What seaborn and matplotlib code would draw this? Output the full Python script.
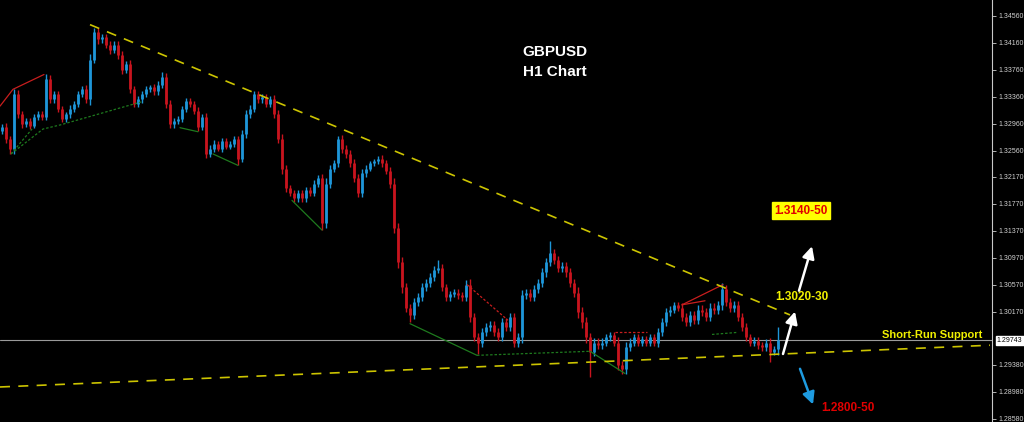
import numpy as np
import matplotlib
matplotlib.use('Agg')
import matplotlib.pyplot as plt
import seaborn as sns

# hourly closes (oldest first)
closes = [
    1.3291, 1.3273, 1.3259, 1.3340, 1.3310, 1.3295, 1.3300, 1.3293, 1.3306, 1.3310,
    1.3306, 1.3362, 1.3332, 1.3340, 1.3318, 1.3303, 1.3310, 1.3318, 1.3325, 1.3340,
    1.3347, 1.3332, 1.3391, 1.3432, 1.3421, 1.3424, 1.3413, 1.3406, 1.3413, 1.3398,
    1.3376, 1.3384, 1.3347, 1.3325, 1.3332, 1.3340, 1.3347, 1.3350, 1.3344, 1.3354,
    1.3365, 1.3325, 1.3295, 1.3300, 1.3303, 1.3318, 1.3329, 1.3325, 1.3315, 1.3291,
    1.3306, 1.3251, 1.3259, 1.3266, 1.3259, 1.3270, 1.3262, 1.3266, 1.3273, 1.3244,
    1.3281, 1.3310, 1.3318, 1.3340, 1.3332, 1.3335, 1.3325, 1.3332, 1.3310, 1.3273,
    1.3229, 1.3200, 1.3193, 1.3185, 1.3193, 1.3185, 1.3197, 1.3193, 1.3207, 1.3215,
    1.3149, 1.3207, 1.3229, 1.3237, 1.3273, 1.3259, 1.3251, 1.3237, 1.3215, 1.3193,
    1.3222, 1.3229, 1.3237, 1.3240, 1.3244, 1.3237, 1.3226, 1.3207, 1.3141, 1.3090,
    1.3053, 1.3023, 1.3012, 1.3031, 1.3038, 1.3053, 1.3060, 1.3068, 1.3079, 1.3082,
    1.3053, 1.3038, 1.3043, 1.3045, 1.3041, 1.3038, 1.3057, 1.3009, 1.2979, 1.2971,
    1.2987, 1.2994, 1.2997, 1.2987, 1.2979, 1.3001, 1.2994, 1.3009, 1.2971, 1.2979,
    1.3041, 1.3045, 1.3038, 1.3050, 1.3060, 1.3075, 1.3090, 1.3104, 1.3094, 1.3082,
    1.3085, 1.3075, 1.3060, 1.3045, 1.3016, 1.3001, 1.2979, 1.2957, 1.2971, 1.2967,
    1.2971, 1.2979, 1.2982, 1.2971, 1.2938, 1.2932, 1.2964, 1.2971, 1.2979, 1.2971,
    1.2976, 1.2971, 1.2979, 1.2971, 1.2987, 1.3001, 1.3016, 1.3020, 1.3026, 1.3023,
    1.3009, 1.3001, 1.3012, 1.3005, 1.3020, 1.3016, 1.3009, 1.3023, 1.3020, 1.3026,
    1.3050, 1.3031, 1.3023, 1.3026, 1.3009, 1.2994, 1.2979, 1.2971, 1.2974, 1.2967,
    1.2964, 1.2971, 1.2957, 1.2961, 1.29743,
]
first_open = 1.3285

# how far each bar's wicks reach past its body, in pips (split up / down)
wick_pips = [
    10, 12, 10, 16, 12, 10, 8, 10, 8, 10,
    10, 10, 12, 10, 10, 8, 8, 10, 10, 10,
    10, 12, 16, 10, 12, 10, 10, 12, 10, 12,
    12, 10, 12, 10, 10, 10, 10, 8, 10, 10,
    10, 12, 12, 10, 10, 8, 10, 10, 10, 12,
    10, 12, 10, 10, 8, 10, 8, 8, 10, 10,
    10, 12, 10, 10, 10, 10, 10, 10, 12, 12,
    16, 12, 10, 10, 10, 10, 10, 10, 10, 10,
    12, 16, 12, 10, 10, 12, 12, 12, 12, 12,
    12, 10, 8, 8, 8, 10, 10, 12, 16, 16,
    16, 12, 10, 12, 12, 12, 12, 12, 10, 10,
    10, 10, 10, 10, 10, 10, 12, 16, 12, 12,
    12, 12, 12, 12, 12, 12, 12, 12, 12, 12,
    16, 10, 10, 12, 12, 12, 12, 12, 12, 12,
    12, 12, 12, 12, 16, 16, 16, 12, 12, 12,
    12, 10, 10, 10, 16, 12, 16, 12, 10, 10,
    10, 10, 10, 10, 12, 12, 12, 10, 10, 10,
    12, 12, 12, 12, 12, 12, 12, 12, 12, 12,
    12, 12, 12, 12, 12, 12, 12, 10, 10, 10,
    10, 10, 12, 10, 16,
]

# wick extremes where they stick out further
spike_highs = {11: 1.3369, 23: 1.3438, 40: 1.3372, 63: 1.3343, 84: 1.3278,
               109: 1.3093, 116: 1.3064, 137: 1.3122, 180: 1.3060, 194: 1.2994}
spike_lows = {2: 1.3251, 59: 1.3234, 80: 1.3138, 102: 1.3001, 119: 1.2954,
              147: 1.2920, 155: 1.2924, 192: 1.2942}

bid_price = 1.29743
price_ticks = [1.34560, 1.34160, 1.33760, 1.33360, 1.32960, 1.32560, 1.32170,
               1.31770, 1.31370, 1.30970, 1.30570, 1.30170, 1.29380, 1.28980, 1.28580]

# trend lines as (bar index, price)
upper_x, upper_y = [22, 197], [1.3443, 1.3012]
lower_x, lower_y = [-0.5, 247], [1.2905, 1.2967]

# pattern lines drawn by the indicator: x, y, colour, style
pattern_lines = [
    ([-0.5, 2.75, 10.5], [1.3322, 1.3347, 1.3369], 'red', 'solid'),
    ([2.25, 10.25, 14.5, 35.25], [1.3251, 1.3288, 1.3294, 1.3329], 'green', 'dotted'),
    ([2.25, 7.5], [1.3251, 1.3288], 'green', 'dotted'),
    ([44.5, 49], [1.3290, 1.3284], 'green', 'solid'),
    ([52.75, 59], [1.3251, 1.3234], 'green', 'solid'),
    ([72.5, 80], [1.3182, 1.3138], 'green', 'solid'),
    ([102, 118.75], [1.2999, 1.2952], 'green', 'solid'),
    ([118.75, 147], [1.2952, 1.2958], 'green', 'dotted'),
    ([116.25, 126.5], [1.3057, 1.3004], 'red', 'dotted'),
    ([147, 155.75], [1.2958, 1.2925], 'green', 'solid'),
    ([153.25, 161.25], [1.2986, 1.2986], 'red', 'dotted'),
    ([170, 180.25], [1.3027, 1.3057], 'red', 'solid'),
    ([170, 175.75], [1.3027, 1.3033], 'red', 'solid'),
    ([177.5, 183.75], [1.2983, 1.2986], 'green', 'dotted'),
]

BULL = '#1E96D8'
BEAR = '#C8141E'
LINE_COLORS = {'red': '#C81E1E', 'green': '#1E7A1E'}
TREND = '#CCC400'

sns.set_theme(style='dark', rc={'axes.facecolor': 'black', 'figure.facecolor': 'black',
                                'axes.grid': False})
plt.rcParams['font.family'] = ['Liberation Sans', 'DejaVu Sans']

fig = plt.figure(figsize=(10.24, 4.22), dpi=100)
ax = fig.add_axes([0, 0, 992 / 1024, 1])
ax.set_facecolor('black')

closes = np.array(closes)
idx = np.arange(len(closes))
opens = np.r_[first_open, closes[:-1]]
half_wick = np.array(wick_pips) * 0.0001 / 2
highs = np.maximum(opens, closes) + half_wick
lows = np.minimum(opens, closes) - half_wick
for i, v in spike_highs.items():
    highs[i] = max(highs[i], v)
for i, v in spike_lows.items():
    lows[i] = min(lows[i], v)
colors = np.where(closes >= opens, BULL, BEAR)

ax.vlines(idx, lows, highs, colors=colors, lw=1.0)
body_lo = np.minimum(opens, closes)
body_hi = np.maximum(np.maximum(opens, closes), body_lo + 0.0003)
ax.vlines(idx, body_lo, body_hi, colors=colors, lw=2.0)

# current bid line
ax.axhline(bid_price, color='#9A9A9A', lw=0.8, zorder=1)

for xs, ys, c, st in pattern_lines:
    ls = (0, (2, 1.5)) if st == 'dotted' else '-'
    ax.plot(xs, ys, color=LINE_COLORS[c], lw=0.9, linestyle=ls)

sns.lineplot(x=upper_x, y=upper_y, ax=ax, color=TREND, lw=1.2, linestyle=(0, (6, 5)))
sns.lineplot(x=lower_x, y=lower_y, ax=ax, color=TREND, lw=1.2, linestyle=(0, (6, 5)))

ax.set_xlim(-0.5, 247.5)
ax.set_ylim(1.2853, 1.34796)

# price scale on the right
ax.yaxis.tick_right()
ax.set_yticks(price_ticks)
ax.set_yticklabels([f'{v:.5f}' for v in price_ticks])
ax.tick_params(axis='y', colors='#D0D0D0', labelsize=5, length=3, width=0.6,
               pad=1.5, direction='out', right=True, left=False)
ax.set_xticks([])
for s in ['left', 'top', 'bottom']:
    ax.spines[s].set_visible(False)
ax.spines['right'].set_color('#C8C8C8')
ax.spines['right'].set_linewidth(0.8)
ax.annotate(f'{bid_price:.5f}', xy=(1.005, bid_price), xycoords=('axes fraction', 'data'),
            ha='left', va='center', fontsize=5, color='black', annotation_clip=False,
            bbox=dict(boxstyle='square,pad=0.15', fc='white', ec='white'))

# titles and targets
ax.text(138.2, 1.3403, 'GBPUSD', color='white', fontsize=11, fontweight='bold',
        ha='center', va='center')
ax.text(138.2, 1.3372, 'H1 Chart', color='white', fontsize=11, fontweight='bold',
        ha='center', va='center')
ax.text(199.8, 1.3167, '1.3140-50', color='#E00000', fontsize=8.5, fontweight='bold',
        ha='center', va='center',
        bbox=dict(boxstyle='square,pad=0.2', fc='#FFFF00', ec='#FFFF00'))
ax.text(200.0, 1.3038, '1.3020-30', color='#F0F000', fontsize=8.5, fontweight='bold',
        ha='center', va='center')
ax.text(232.5, 1.2982, 'Short-Run Support', color='#F0F000', fontsize=8,
        fontweight='bold', ha='center', va='center')
ax.text(211.5, 1.2874, '1.2800-50', color='#E00000', fontsize=8.5, fontweight='bold',
        ha='center', va='center')

arrow_kw = dict(arrowstyle='-|>,head_length=0.6,head_width=0.3', lw=1.8, shrinkA=0, shrinkB=0)
ax.annotate('', xy=(198.25, 1.3017), xytext=(195.25, 1.2954),
            arrowprops=dict(color='white', **arrow_kw))
ax.annotate('', xy=(202.5, 1.3114), xytext=(199.25, 1.3048),
            arrowprops=dict(color='white', **arrow_kw))
ax.annotate('', xy=(202.75, 1.2879), xytext=(199.5, 1.2932),
            arrowprops=dict(color='#1E9BE0', **arrow_kw))

fig.savefig('out.png', dpi=100, facecolor='black')
